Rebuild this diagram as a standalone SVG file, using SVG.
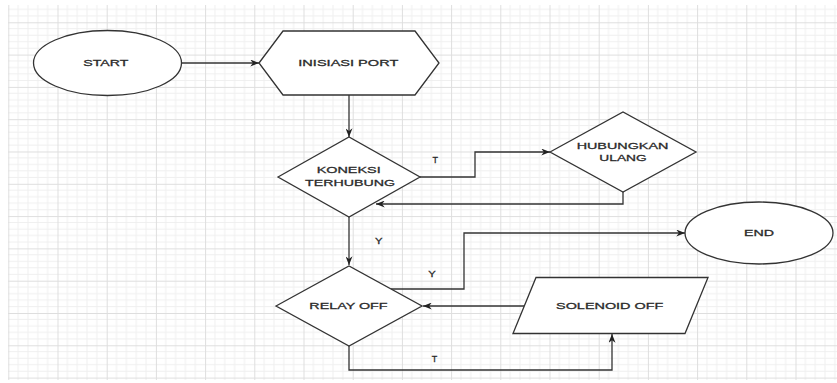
<svg xmlns="http://www.w3.org/2000/svg" width="837" height="383" viewBox="0 0 837 383">
<style>
.shape{fill:#fff;stroke:#333;stroke-width:1.3}
.edge{fill:none;stroke:#333;stroke-width:1.3}
.lbl{font-family:"Liberation Sans",Arial,sans-serif;font-size:9.5px;fill:#2a2a2a;stroke:#2a2a2a;stroke-width:0.3;text-anchor:middle}
</style>
<defs>
<pattern id="grid" patternUnits="userSpaceOnUse" x="8.3" y="22.3" width="49.2" height="32.3">
<g stroke="#efefef" stroke-width="1">
<line x1="9.84" y1="0" x2="9.84" y2="32.3"/>
<line x1="19.68" y1="0" x2="19.68" y2="32.3"/>
<line x1="29.52" y1="0" x2="29.52" y2="32.3"/>
<line x1="39.36" y1="0" x2="39.36" y2="32.3"/>
<line x1="0" y1="6.46" x2="49.2" y2="6.46"/>
<line x1="0" y1="12.92" x2="49.2" y2="12.92"/>
<line x1="0" y1="19.38" x2="49.2" y2="19.38"/>
<line x1="0" y1="25.84" x2="49.2" y2="25.84"/>
</g>
<g stroke="#dedede" stroke-width="1">
<line x1="0.5" y1="0" x2="0.5" y2="32.3"/>
<line x1="0" y1="0.5" x2="49.2" y2="0.5"/>
</g>
</pattern>
<marker id="arr" viewBox="0 0 10 8" markerWidth="9" markerHeight="7" refX="10" refY="4" orient="auto" markerUnits="userSpaceOnUse">
<path d="M0,0 L10,4 L0,8 L3,4 z" fill="#222"/>
</marker>
</defs>
<rect x="0" y="0" width="837" height="383" fill="#fff"/>
<rect x="8" y="5" width="829" height="375" fill="url(#grid)"/>

<g id="connectors">
<path class="edge" d="M181.5,63 L259,63" marker-end="url(#arr)"/>
<path class="edge" d="M349,95 L349,137" marker-end="url(#arr)"/>
<path class="edge" d="M420,177 L475,177 L475,152 L550,152" marker-end="url(#arr)"/>
<path class="edge" d="M623,192 L623,204 L376,204" marker-end="url(#arr)"/>
<path class="edge" d="M349,217 L349,265" marker-end="url(#arr)"/>
<path class="edge" d="M391,289 L464,289 L464,233 L685,233" marker-end="url(#arr)"/>
<path class="edge" d="M524,306 L423,306" marker-end="url(#arr)"/>
<path class="edge" d="M349,346 L349,370 L612,370 L612,334" marker-end="url(#arr)"/>
<text class="lbl" x="435.2" y="162.7" textLength="5.5" lengthAdjust="spacingAndGlyphs">T</text>
<text class="lbl" x="378.8" y="244.3" textLength="7.5" lengthAdjust="spacingAndGlyphs">Y</text>
<text class="lbl" x="432" y="276.7" textLength="7.5" lengthAdjust="spacingAndGlyphs">Y</text>
<text class="lbl" x="434.5" y="361.7" textLength="5.5" lengthAdjust="spacingAndGlyphs">T</text>
</g>

<g id="start">
<ellipse class="shape" cx="107.5" cy="63" rx="74" ry="32.5"/>
<text class="lbl" x="105.8" y="66.4" textLength="45" lengthAdjust="spacingAndGlyphs">START</text>
</g>

<g id="inisiasi-port">
<polygon class="shape" points="259,63 283,31 415,31 439,63 415,95 283,95"/>
<text class="lbl" x="348.3" y="66.4" textLength="100" lengthAdjust="spacingAndGlyphs">INISIASI PORT</text>
</g>

<g id="koneksi-terhubung">
<polygon class="shape" points="278,177 349,137 420,177 349,217"/>
<text class="lbl" x="348.7" y="173.4" textLength="64" lengthAdjust="spacingAndGlyphs">KONEKSI</text>
<text class="lbl" x="350" y="186" textLength="90" lengthAdjust="spacingAndGlyphs">TERHUBUNG</text>
</g>

<g id="hubungkan-ulang">
<polygon class="shape" points="550,152 623,112 696,152 623,192"/>
<text class="lbl" x="622.5" y="149.4" textLength="91.7" lengthAdjust="spacingAndGlyphs">HUBUNGKAN</text>
<text class="lbl" x="623" y="161" textLength="47.3" lengthAdjust="spacingAndGlyphs">ULANG</text>
</g>

<g id="relay-off">
<polygon class="shape" points="276,306 349,266 422,306 349,346"/>
<text class="lbl" x="348.5" y="309.1" textLength="78.3" lengthAdjust="spacingAndGlyphs">RELAY OFF</text>
</g>

<g id="solenoid-off">
<polygon class="shape" points="536,277.5 708,277.5 685,333.5 513,333.5"/>
<text class="lbl" x="609.7" y="309.1" textLength="107.3" lengthAdjust="spacingAndGlyphs">SOLENOID OFF</text>
</g>

<g id="end">
<ellipse class="shape" cx="759" cy="233" rx="74" ry="31"/>
<text class="lbl" x="759" y="235.7" textLength="30" lengthAdjust="spacingAndGlyphs">END</text>
</g>
</svg>
